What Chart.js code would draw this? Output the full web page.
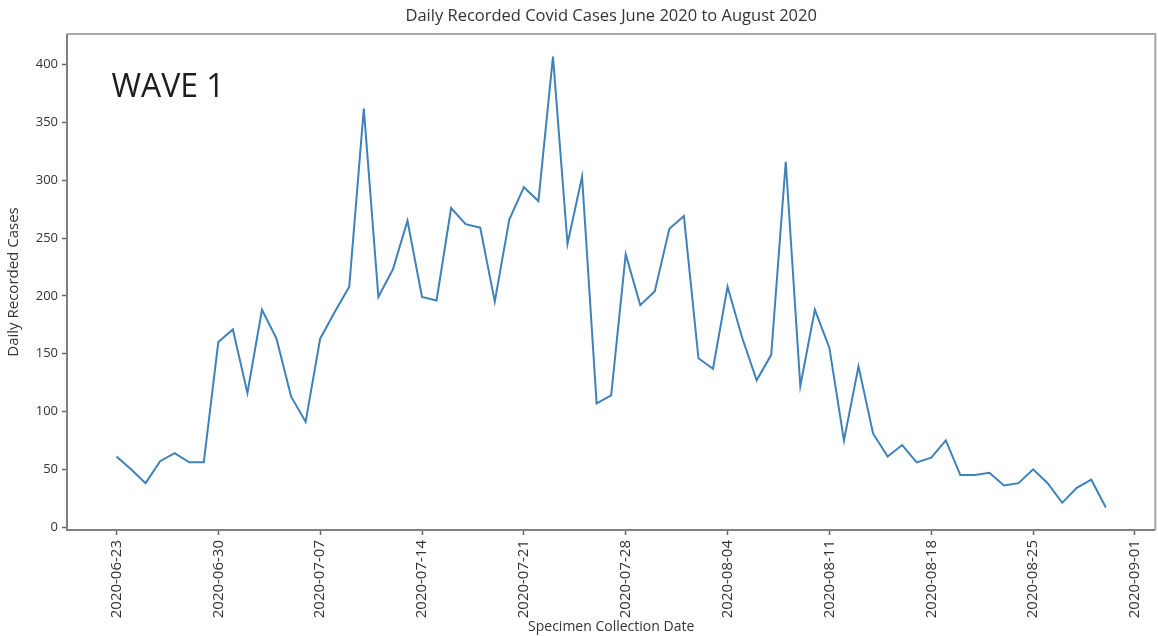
<!DOCTYPE html>
<html>
<head>
<meta charset="utf-8">
<script src="https://cdn.jsdelivr.net/npm/chart.js@4.4.1/dist/chart.umd.min.js"></script>
<style>
  html, body { margin: 0; padding: 0; background: #fff; }
</style>
</head>
<body>
<canvas id="covidChart" width="1158" height="636"></canvas>
<script>
// one value per day, starting 2020-06-23 (day 0) through 2020-08-30 (day 68)
const dayOffsets = [
  0, 1, 2, 3, 4, 5, 6, 7, 8, 9, 10, 11, 12, 13, 14, 15, 16, 17, 18, 19, 20, 21, 22,
  23, 24, 25, 26, 27, 28, 29, 30, 31, 32, 33, 34, 35, 36, 37, 38, 39, 40, 41, 42, 43, 44, 45,
  46, 47, 48, 49, 50, 51, 52, 53, 54, 55, 56, 57, 58, 59, 60, 61, 62, 63, 64, 65, 66, 67, 68,
];
const dailyCases = [
  61, 50, 38, 57, 64, 56, 56,
  160, 171, 116, 188, 163, 113, 91,
  163, 186, 208, 362, 199, 223, 265,
  199, 196, 276, 262, 259, 195, 266,
  294, 282, 407, 245, 303, 107, 114,
  236, 192, 204, 258, 269, 146, 137,
  208, 164, 127, 149, 316, 122, 188,
  155, 75, 139, 81, 61, 71, 56,
  60, 75, 45, 45, 47, 36, 38,
  50, 38, 21, 34, 41, 17,
];
const xTickDays = [0, 7, 14, 21, 28, 35, 42, 49, 56, 63, 70];
const xTickLabels = [
  '2020-06-23', '2020-06-30', '2020-07-07', '2020-07-14', '2020-07-21', '2020-07-28',
  '2020-08-04', '2020-08-11', '2020-08-18', '2020-08-25', '2020-09-01',
];
const yTickValues = [0, 50, 100, 150, 200, 250, 300, 350, 400];

const FONT = "'Open Sans', 'DejaVu Sans', sans-serif";
const TEXT = '#333333';

// matplotlib-like box round the plot area + the "WAVE 1" note
const frameAndNote = {
  id: 'frameAndNote',
  afterDatasetsDraw(chart) {
    const { ctx, chartArea: a, scales: { x, y } } = chart;
    ctx.save();
    ctx.lineWidth = 2;
    ctx.strokeStyle = '#a8a8a8';
    ctx.beginPath();
    ctx.moveTo(a.left, a.top);
    ctx.lineTo(a.right, a.top);
    ctx.lineTo(a.right, a.bottom);
    ctx.stroke();
    ctx.strokeStyle = '#808080';
    ctx.beginPath();
    ctx.moveTo(a.left, a.top);
    ctx.lineTo(a.left, a.bottom);
    ctx.lineTo(a.right, a.bottom);
    ctx.stroke();

    ctx.fillStyle = '#1e1e1e';
    ctx.font = "32px 'Open Sans', sans-serif";
    ctx.textAlign = 'left';
    ctx.textBaseline = 'middle';
    ctx.fillText('WAVE 1', x.getPixelForValue(-0.35), y.getPixelForValue(380));
    ctx.restore();
  },
};

const config = {
  type: 'line',
  data: {
    datasets: [
      {
        label: 'Daily Recorded Cases',
        data: dayOffsets.map((d, i) => ({ x: d, y: dailyCases[i] })),
        borderColor: '#3f82ba',
        borderWidth: 2,
        pointRadius: 0,
        tension: 0,
        fill: false,
      },
    ],
  },
  options: {
    responsive: false,
    animation: false,
    devicePixelRatio: 1,
    layout: { padding: { left: 0, right: 1, top: 0, bottom: 0 } },
    plugins: {
      legend: { display: false },
      tooltip: { enabled: false },
      title: {
        display: true,
        fullSize: false,
        text: 'Daily Recorded Covid Cases June 2020 to August 2020',
        color: TEXT,
        font: { family: FONT, size: 16.5, weight: 'normal' },
        padding: { top: 6, bottom: 8.2 },
      },
    },
    scales: {
      x: {
        type: 'linear',
        min: -3.4,
        max: 71.4,
        afterBuildTicks: (scale) => {
          scale.ticks = xTickDays.map((v) => ({ value: v }));
        },
        afterFit: (scale) => {
          scale.height = 106;
        },
        ticks: {
          autoSkip: false,
          minRotation: 90,
          maxRotation: 90,
          padding: 5,
          color: TEXT,
          font: { family: FONT, size: 15 },
          callback: (v) => xTickLabels[xTickDays.indexOf(v)],
        },
        grid: {
          display: true,
          drawOnChartArea: false,
          tickLength: 5,
          tickWidth: 1.5,
          tickColor: '#666',
        },
        border: { display: false },
        title: {
          display: true,
          text: 'Specimen Collection Date',
          color: TEXT,
          font: { family: FONT, size: 14 },
          padding: { top: 0, bottom: 1 },
        },
      },
      y: {
        type: 'linear',
        min: -2.5,
        max: 426.5,
        afterBuildTicks: (scale) => {
          scale.ticks = yTickValues.map((v) => ({ value: v }));
        },
        afterFit: (scale) => {
          scale.width = 67;
        },
        ticks: {
          padding: 4,
          color: TEXT,
          font: { family: FONT, size: 13 },
        },
        grid: {
          display: true,
          drawOnChartArea: false,
          tickLength: 5,
          tickWidth: 1.5,
          tickColor: '#666',
        },
        border: { display: false },
        title: {
          display: true,
          text: 'Daily Recorded Cases',
          color: TEXT,
          font: { family: FONT, size: 15 },
          padding: { top: 5, bottom: 0 },
        },
      },
    },
  },
  plugins: [frameAndNote],
};

const covidChart = new Chart(document.getElementById('covidChart'), config);
</script>
</body>
</html>
